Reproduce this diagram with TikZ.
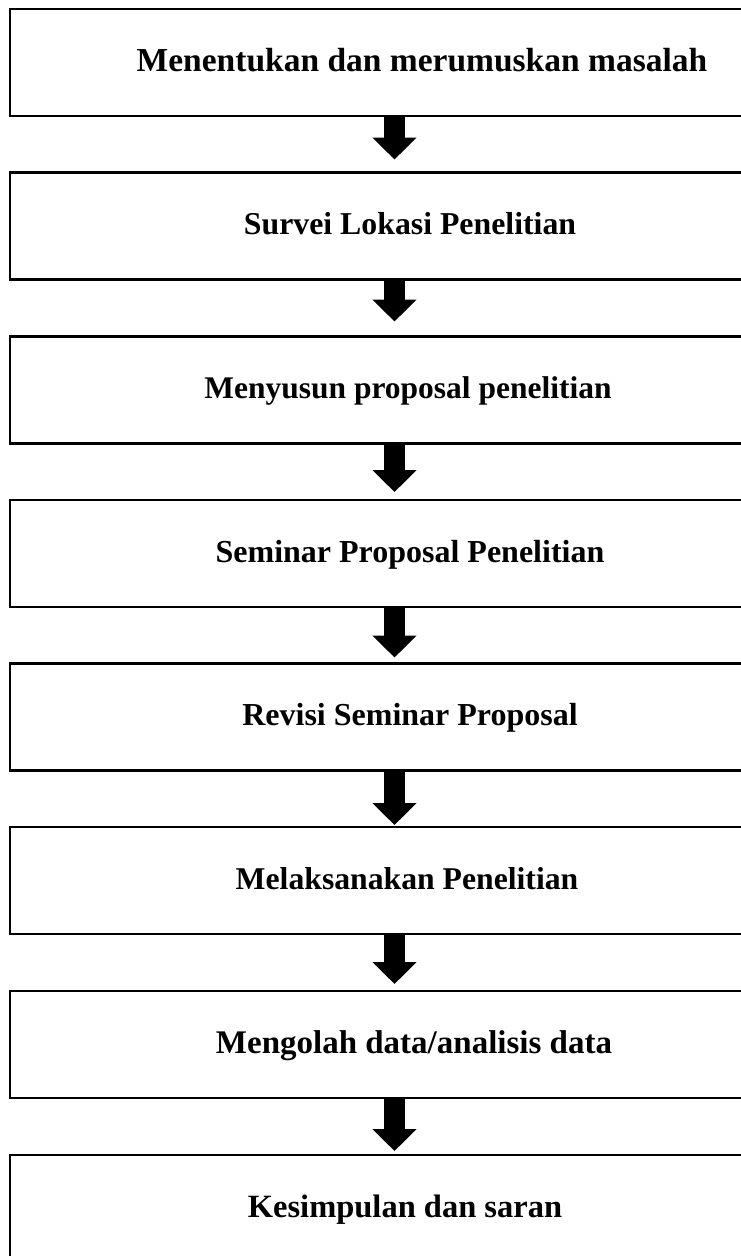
\documentclass[tikz,border=0pt]{standalone}
\usepackage{fontspec}
\setmainfont{Liberation Serif}
\usetikzlibrary{arrows.meta}
\tikzset{
  stepbox/.style = {draw, line width=2.8pt, minimum width=769pt, minimum height=107pt, inner sep=0pt, outer sep=0pt},
  steptext/.style = {anchor=base, inner sep=0pt},
  bigarrow/.style = {line width=21pt, -{Triangle[width=43pt,length=22pt]}}
}
\begin{document}
\begin{tikzpicture}[x=1pt, y=1pt]
\useasboundingbox (0,0) rectangle (740,-1256);
\foreach \i/\yc/\txt/\dx/\fs in {1/62.5/Menentukan dan merumuskan masalah/27.5/33.5,
  2/226/Survei Lokasi Penelitian/15.5/31.8,
  3/390/Menyusun proposal penelitian/13.5/31.5,
  4/553.5/Seminar Proposal Penelitian/15.5/32,
  5/717/Revisi Seminar Proposal/15.5/32,
  6/880.5/Melaksanakan Penelitian/12.5/31.7,
  7/1044.5/{Mengolah data/analisis data}/19.5/33,
  8/1208.5/Kesimpulan dan saran/10.5/32.5}
{
\node[stepbox] (b\i) at (394.5,-\yc) {};
\node[steptext, font=\fontsize{\fs}{40}\selectfont\bfseries] (t\i) at ([xshift=\dx pt, yshift=-62pt]b\i.north) {\txt};
}
% arrows between steps
\foreach \i/\gap [count=\j from 2] in {1/13,2/15,3/8,4/6,5/2,6/7,7/4}
\draw[bigarrow, shorten >=\gap pt] (b\i.south) -- (b\j.north);
\end{tikzpicture}
\end{document}
